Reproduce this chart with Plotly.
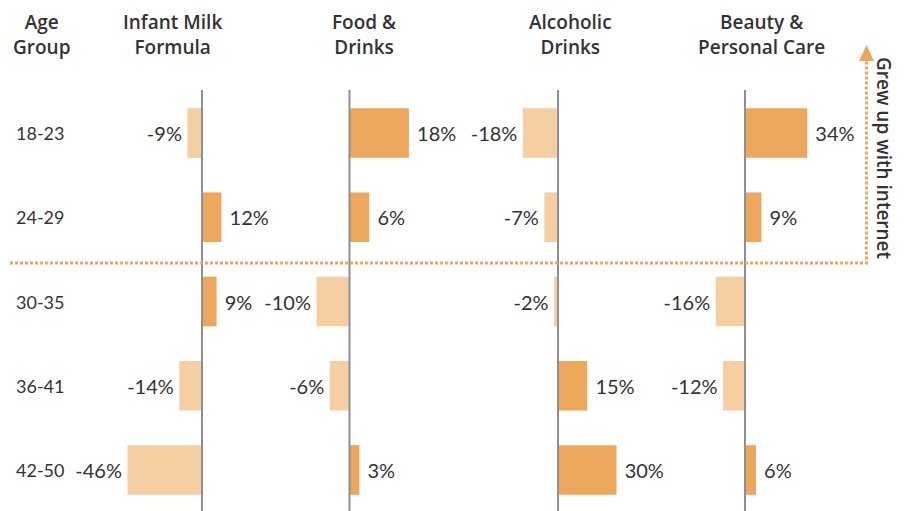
import plotly.graph_objs as go

ages = ['18-23', '24-29', '30-35', '36-41', '42-50']
categories = ['Infant Milk<br>Formula', 'Food &<br>Drinks', 'Alcoholic<br>Drinks', 'Beauty &<br>Personal Care']
infant = [-9, 12, 9, -14, -46]
food = [18, 6, -10, -6, 3]
alcohol = [-18, -7, -2, 15, 30]
beauty = [34, 9, -16, -12, 6]
series = [infant, food, alcohol, beauty]

W, H = 906, 511
OFF = 8  # page body margin
POS = '#EDA75D'
NEG = '#F5CFA2'
ORANGE = '#EDA75D'
TXT = '#333333'
HEAD = dict(family='Open Sans', size=19, color=TXT, weight=600)


def px(x):
    return (x - OFF) / W


def py(y):
    return 1 - (y - OFF) / H


# pixel position of each zero line, and pixels per percentage point
zeros = [202, 349.5, 558, 745]
scales = [1.62, 3.3, 1.95, 1.83]
heads_x = [172, 364, 570, 761]


def label(v):
    # a little breathing room between bar end and its label
    return ' {}%'.format(v) if v > 0 else '{}%\u2009'.format(v)


fig = go.Figure()
# category index i sits at pixel 133 + 84.25 * i
top = (OFF - 133) / 84.25
bottom = (OFF + H - 133) / 84.25
layout = dict(
    width=W, height=H,
    margin=dict(l=0, r=0, t=0, b=0),
    plot_bgcolor='rgba(0,0,0,0)', paper_bgcolor='white',
    showlegend=False, bargap=0.41,
    font=dict(family='Lato', color=TXT),
    yaxis=dict(type='category', range=[bottom, top], visible=False, categoryorder='array', categoryarray=ages),
)

shapes = []
annotations = []
for i, vals in enumerate(series):
    ax = 'x' if i == 0 else 'x' + str(i + 1)
    fig.add_trace(go.Bar(
        x=vals, y=ages, orientation='h', xaxis=ax, yaxis='y',
        marker=dict(color=[POS if v > 0 else NEG for v in vals], line=dict(width=0)),
        text=[label(v) for v in vals], textposition='outside',
        textfont=dict(family='Lato', size=20, color=TXT),
        cliponaxis=False,
    ))
    z, s = zeros[i] - OFF, scales[i]
    layout['xaxis' if i == 0 else 'xaxis' + str(i + 1)] = dict(
        range=[-z / s, (W - z) / s], domain=[0, 1], visible=False, anchor='y', fixedrange=True)
    shapes.append(dict(type='line', xref=ax, yref='paper', x0=0, x1=0, y0=0, y1=py(90),
                       line=dict(color='#8C8F93', width=2), layer='above'))
    annotations.append(dict(text=categories[i], x=px(heads_x[i]), y=py(34.5),
                            xref='paper', yref='paper', xanchor='center', yanchor='middle',
                            showarrow=False, align='center', font=HEAD))

annotations.append(dict(text='Age<br>Group', x=px(41), y=py(34.5), xref='paper', yref='paper',
                        xanchor='center', yanchor='middle', showarrow=False, align='center', font=HEAD))
for a in ages:
    annotations.append(dict(text=a, x=px(14), y=a, xref='paper', yref='y', xanchor='left',
                            showarrow=False, font=dict(family='Lato', size=18, color=TXT)))

# "grew up with internet" divider
shapes.append(dict(type='path', xref='paper', yref='paper',
                   path='M {},{} L {},{} L {},{}'.format(px(10), py(263), px(866.5), py(263), px(866.5), py(60)),
                   line=dict(color=ORANGE, width=3, dash='3px,2px')))
shapes.append(dict(type='path', xref='paper', yref='paper', fillcolor=ORANGE,
                   path='M {},{} L {},{} L {},{} Z'.format(px(859), py(61), px(874), py(61), px(866.5), py(45)),
                   line=dict(width=0)))
annotations.append(dict(text='Grew up with internet', x=px(884), y=py(158), xref='paper', yref='paper',
                        xanchor='center', yanchor='middle', textangle=90, showarrow=False, font=HEAD))

layout['shapes'] = shapes
layout['annotations'] = annotations
fig.update_layout(**layout)
fig.write_html('out.html')
